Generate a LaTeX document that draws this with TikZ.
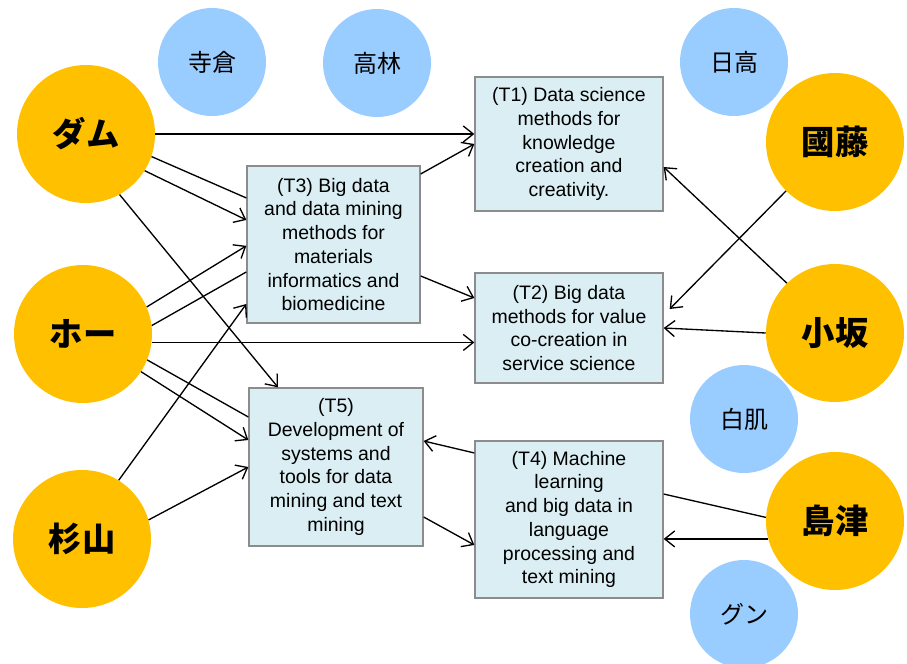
\documentclass[tikz,border=0pt]{standalone}
\usepackage{fontspec}
\setmainfont{Liberation Sans}
\newfontfamily\cjk{Noto Sans CJK JP}
\usetikzlibrary{arrows.meta}
\definecolor{orangec}{HTML}{FFC000}
\definecolor{bluec}{HTML}{99CCFF}
\definecolor{boxfill}{HTML}{DAEEF3}
\definecolor{boxdraw}{HTML}{8C8C8C}
\begin{document}
\begin{tikzpicture}[x=0.75pt,y=-0.75pt,
 person/.style={circle,fill=orangec,minimum size=103.5pt,inner sep=0pt,font=\cjk\bfseries\fontsize{25}{30}\selectfont},
 member/.style={circle,fill=bluec,minimum size=81pt,inner sep=0pt,font=\cjk\fontsize{18}{22}\selectfont},
 topic/.style={draw=boxdraw,line width=1pt,fill=boxfill,align=center,inner sep=0pt,font=\fontsize{14.6}{17.8}\selectfont},
 link/.style={line width=1pt},
 arr/.style={link,-{Straight Barb[length=7.5pt,width=12pt,line width=1pt]}}]
\useasboundingbox (0,0) rectangle (907,664);
% members
\node[member] (terakura) at (212,62) {寺倉};
\node[member] (takabayashi) at (377,63) {高林};
\node[member] (hidaka) at (734,62) {日高};
\node[member] (shirahada) at (744,419) {白肌};
\node[member] (gun) at (744,614) {グン};
% persons
\node[person] (dam) at (86,134) {ダム};
\node[person] (ho) at (83,334) {ホー};
\node[person] (sugi) at (82,539) {杉山};
\node[person] (kuni) at (835,142) {國藤};
\node[person] (kosaka) at (835,333) {小坂};
\node[person] (shima) at (835,521) {島津};
% topics
\node[topic,minimum width=141pt,minimum height=100.5pt] (t1) at (569,144)
 {(T1) Data science\\methods for\\knowledge\\creation and\\creativity.};
\node[topic,minimum width=141pt,minimum height=82.5pt] (t2) at (569,328)
 {(T2) Big data\\methods for value\\co-creation in\\service science};
\node[topic,minimum width=129.75pt,minimum height=117.75pt] (t3) at (333.5,244.5)
 {(T3) Big data\\and data mining\\methods for\\materials\\informatics and\\biomedicine};
\node[topic,minimum width=130.5pt,minimum height=118.5pt] (t5) at (336,467)
 {(T5)\\Development of\\systems and\\tools for data\\mining and text\\mining};
\node[topic,minimum width=141pt,minimum height=117.75pt] (t4) at (569,519.5)
 {(T4) Machine\\learning\\and big data in\\language\\processing and\\text mining};
% connectors left
\draw[arr] (dam.east) -- (dam.east -| t1.west);
\draw[link] (dam.-19) -- ([yshift=34.9pt]t3.west);
\draw[arr] (dam.-32) -- ([yshift=18.4pt]t3.west);
\draw[arr] (dam.-61) -- ([xshift=-43.5pt]t5.north);
\draw[arr] (ho.23) -- ([yshift=-1pt]t3.west);
\draw[link] (ho.7) -- ([yshift=-20.6pt]t3.west);
\draw[arr] (ho.-7.5) -- (ho.-7.5 -| t2.west);
\draw[link] (ho.-22) -- ([yshift=37.5pt]t5.west);
\draw[arr] (ho.-33) -- ([yshift=20.25pt]t5.west);
\draw[arr] (sugi.58) -- ([yshift=-44.6pt]t3.west);
\draw[arr] (sugi.16) -- (t5.west);
% between topics
\draw[arr] ([yshift=52.9pt]t3.east) -- (t1.west);
\draw[arr] ([yshift=-23.6pt]t3.east) -- ([yshift=22.5pt]t2.west);
\draw[arr] ([yshift=49.9pt]t4.west) -- ([yshift=19.5pt]t5.east);
\draw[arr] ([yshift=-37.5pt]t5.east) -- ([yshift=-19.1pt]t4.west);
% connectors right
\draw[arr] (kuni.225) -- ([xshift=4.5pt,yshift=14.25pt]t2.east);
\draw[arr] (kosaka.134) -- ([yshift=-17.25pt]t1.east);
\draw[arr] (kosaka.west) -- (t2.east);
\draw[link] (shima.177) -- ([yshift=19.1pt]t4.east);
\draw[arr] (shima.195) -- (shima.195 -| t4.east);
\end{tikzpicture}
\end{document}
